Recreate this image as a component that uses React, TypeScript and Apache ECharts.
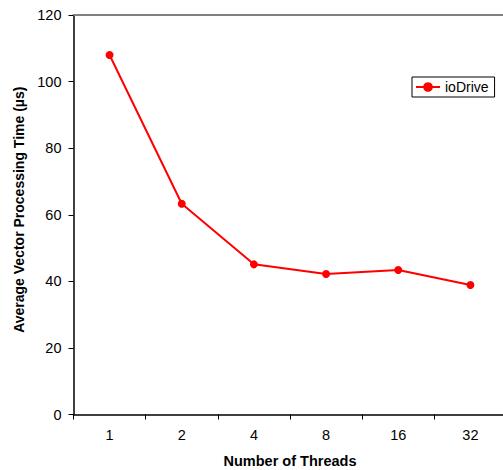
import React, { useEffect, useRef } from "react";
import * as echarts from "echarts";

const categories = ["1", "2", "4", "8", "16", "32"];
const ioDriveValues = [108.0, 63.3, 45.1, 42.2, 43.4, 38.9];
const yTicks = { min: 0, max: 120, interval: 20 };

const FONT = "'Liberation Sans', Arial, sans-serif";

export default function App() {
  const ref = useRef<HTMLDivElement>(null);
  useEffect(() => {
    if (!ref.current) return;
    const chart = echarts.init(ref.current, undefined, { renderer: "svg" });
    chart.setOption({
      animation: false,
      backgroundColor: "#ffffff",
      textStyle: { fontFamily: FONT },
      grid: {
        left: 73.5,
        right: -3.5,
        top: 15,
        bottom: 55.5,
        containLabel: false,
        outerBoundsMode: "none",
      },
      legend: {
        left: 412,
        top: 77,
        orient: "vertical",
        borderColor: "#000",
        borderWidth: 1,
        borderRadius: 0,
        padding: [3, 6, 3, 3],
        itemWidth: 24,
        itemHeight: 12,
        textStyle: { fontFamily: FONT, fontSize: 14, color: "#000" },
        data: ["ioDrive"],
      },
      xAxis: [
        {
          type: "category",
          data: categories,
          boundaryGap: true,
          position: "bottom",
          name: "Number of Threads",
          nameLocation: "middle",
          nameGap: 39,
          nameTextStyle: { fontFamily: FONT, fontSize: 14.5, fontWeight: "bold", color: "#000" },
          axisLine: { lineStyle: { color: "#000", width: 1.5 } },
          axisTick: { show: true, length: 5, inside: false, lineStyle: { color: "#000", width: 1 } },
          axisLabel: { fontFamily: FONT, fontSize: 14.5, color: "#000", margin: 13 },
          splitLine: { show: false },
        },
        {
          type: "category",
          data: categories,
          position: "top",
          axisLine: { lineStyle: { color: "#808080", width: 2 } },
          axisTick: { show: false },
          axisLabel: { show: false },
          splitLine: { show: false },
        },
      ],
      yAxis: {
        type: "value",
        min: yTicks.min,
        max: yTicks.max,
        interval: yTicks.interval,
        name: "Average Vector Processing Time (µs)",
        nameLocation: "middle",
        nameGap: 43,
        nameTextStyle: {
          fontFamily: FONT,
          fontSize: 14,
          fontWeight: "bold",
          color: "#000",
          padding: [0, 0, 0, 10],
        },
        axisLine: { show: true, lineStyle: { color: "#000", width: 1.5 } },
        axisTick: { show: true, length: 5, inside: false, lineStyle: { color: "#000", width: 1 } },
        axisLabel: { fontFamily: FONT, fontSize: 14.5, color: "#000", margin: 12 },
        splitLine: { show: false },
      },
      series: [
        {
          name: "ioDrive",
          type: "line",
          xAxisIndex: 0,
          data: ioDriveValues,
          symbol: "circle",
          symbolSize: 8,
          lineStyle: { color: "#ff0000", width: 2 },
          itemStyle: { color: "#ff0000" },
        },
      ],
    });
    return () => chart.dispose();
  }, []);
  return (
    <div
      ref={ref}
      style={{ position: "fixed", left: 0, top: 0, width: 503, height: 470, background: "#fff" }}
    />
  );
}
